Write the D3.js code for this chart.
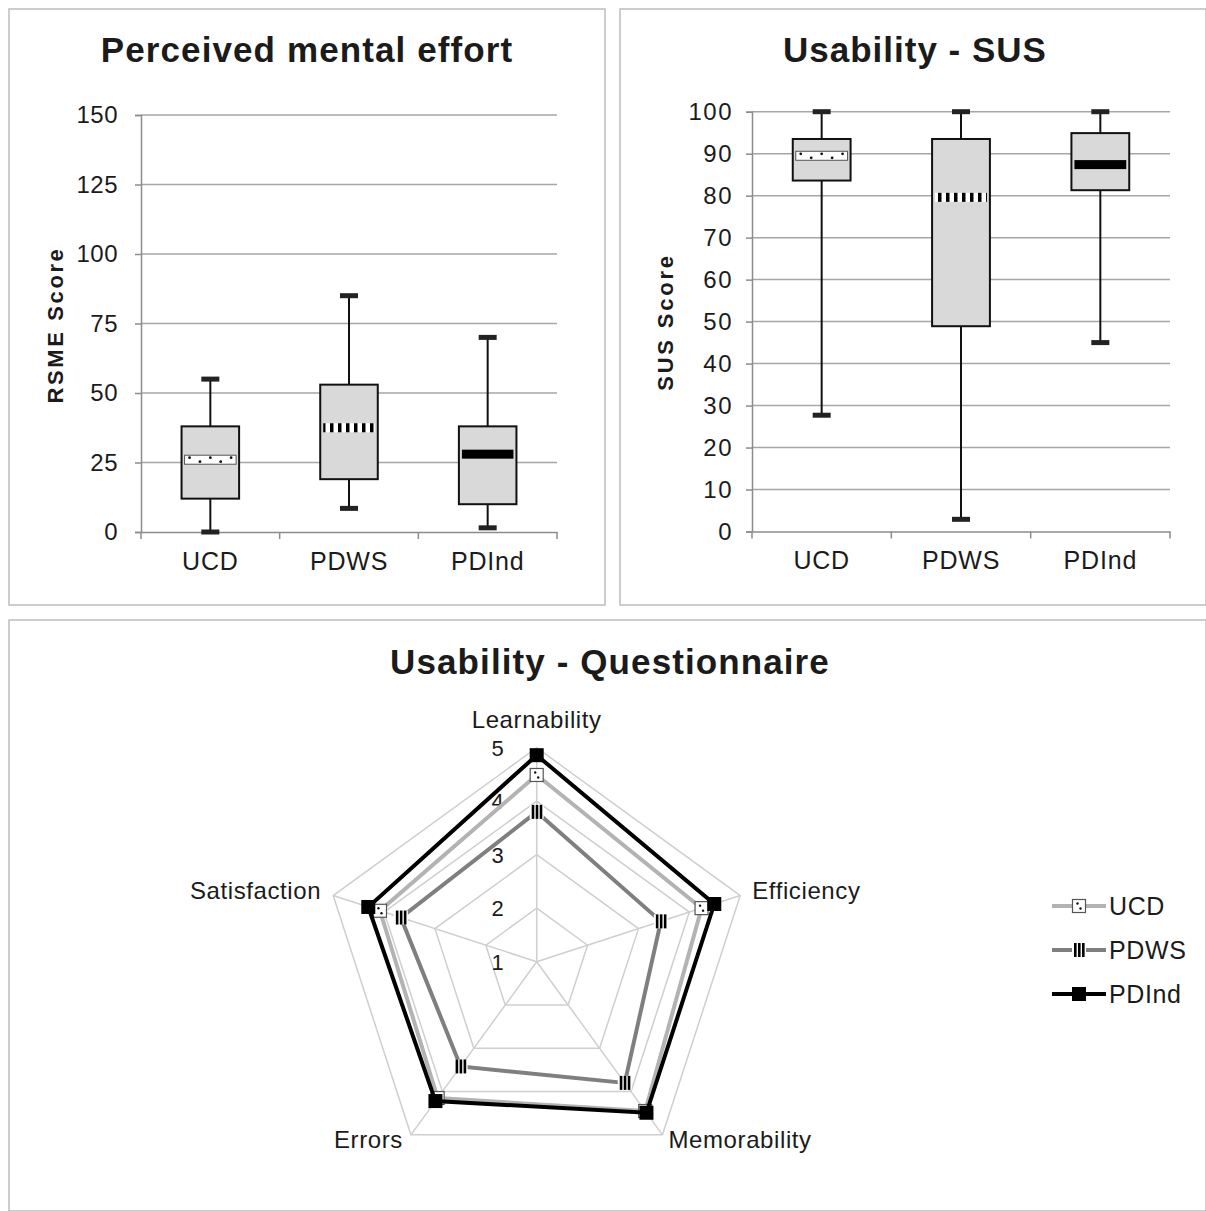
<!DOCTYPE html>
<html><head><meta charset="utf-8">
<script src="https://cdn.jsdelivr.net/npm/d3@7"></script>
<style>
body{margin:0;background:#fff}
svg{display:block;font-family:"Liberation Sans",Arial,sans-serif}
</style></head><body>
<svg id="fig" width="1206" height="1211"></svg>
<script>
// ---- data ----
const groups = ["UCD", "PDWS", "PDInd"];

// Perceived mental effort (RSME) per group
const rsmeMin    = [0, 8.5, 1.5];
const rsmeQ1     = [12, 19, 10];
const rsmeMedian = [26, 37.5, 28];
const rsmeQ3     = [38, 53, 38];
const rsmeMax    = [55, 85, 70];
const rsmeTicks  = [0, 25, 50, 75, 100, 125, 150];

// System Usability Scale per group
const susMin    = [27.7, 2.9, 45];
const susQ1     = [83.6, 48.9, 81.3];
const susMedian = [89.5, 79.6, 87.4];
const susQ3     = [93.5, 93.5, 94.9];
const susMax    = [100, 100, 100];
const susTicks  = [0, 10, 20, 30, 40, 50, 60, 70, 80, 90, 100];

// Usability questionnaire (1-5) per dimension
const dimensions  = ["Learnability", "Efficiency", "Memorability", "Errors", "Satisfaction"];
const ucdScores   = [4.49, 4.24, 4.45, 4.15, 4.08];
const pdwsScores  = [3.80, 3.44, 3.80, 3.42, 3.67];
const pdindScores = [4.86, 4.49, 4.49, 4.22, 4.31];
const radarTicks  = [1, 2, 3, 4, 5];

// ---- drawing ----
const svg = d3.select("#fig");
const TXT = "#1b1b1b";
const defs = svg.append("defs");

// striped fill used for the PDWS median band
const stripe = defs.append("pattern").attr("id", "stripes")
  .attr("patternUnits", "userSpaceOnUse").attr("width", 8).attr("height", 20);
stripe.append("rect").attr("width", 8).attr("height", 20).attr("fill", "#fff");
stripe.append("rect").attr("x", 2).attr("width", 3.5).attr("height", 20).attr("fill", "#000");

// panel frames
const frames = [[9, 9, 596, 596], [620, 9, 586, 596], [9, 620, 1197, 591]];
svg.selectAll("rect.frame").data(frames).join("rect")
  .attr("class", "frame")
  .attr("x", d => d[0]).attr("y", d => d[1]).attr("width", d => d[2]).attr("height", d => d[3])
  .attr("fill", "#fff").attr("stroke", "#bdbdbd").attr("stroke-width", 1.5);

const styles = ["dots", "stripes", "solid"];

function boxPanel(o) {
  const g = svg.append("g");
  const y = d3.scaleLinear().domain(o.domain).range([o.yBot, o.yTop]);
  const x = d3.scaleBand().domain(groups).range([o.x0, o.x1]);

  // horizontal gridlines
  g.append("g").selectAll("line").data(o.ticks.filter(t => t > o.domain[0])).join("line")
    .attr("x1", o.x0).attr("x2", o.x1)
    .attr("y1", d => y(d)).attr("y2", d => y(d))
    .attr("stroke", "#a6a6a6").attr("stroke-width", 1.5);

  // value axis
  const ay = g.append("g").attr("transform", `translate(${o.x0},0)`)
    .call(d3.axisLeft(y).tickValues(o.ticks).tickSize(6).tickPadding(o.pad).tickFormat(d3.format("d")));
  ay.select(".domain").attr("stroke", "#8c8c8c").attr("stroke-width", 1.5);
  ay.selectAll(".tick line").attr("stroke", "#8c8c8c").attr("stroke-width", 1.5);
  ay.selectAll("text").attr("fill", TXT).style("font-size", o.tickFont + "px")
    .style("letter-spacing", o.tickSpacing + "px");

  // category axis
  const ax = g.append("g").attr("transform", `translate(0,${o.yBot})`)
    .call(d3.axisBottom(x).tickSize(0).tickPadding(20));
  ax.select(".domain").attr("stroke", "#8c8c8c").attr("stroke-width", 1.5);
  ax.selectAll("text").attr("fill", TXT).style("font-size", "25px").style("letter-spacing", "0.8px");
  const bounds = groups.map(c => x(c)).concat([o.x1]);
  g.append("g").selectAll("line").data(bounds).join("line")
    .attr("x1", d => d).attr("x2", d => d).attr("y1", o.yBot).attr("y2", o.yBot + 7)
    .attr("stroke", "#8c8c8c").attr("stroke-width", 1.5);

  const bw = x.bandwidth() * 0.415;
  const boxes = groups.map((c, i) => ({
    c, i, lo: o.min[i], q1: o.q1[i], med: o.median[i], q3: o.q3[i], hi: o.max[i],
    cx: x(c) + x.bandwidth() / 2, style: styles[i]
  }));

  const b = g.append("g").selectAll("g").data(boxes).join("g");
  // whiskers
  b.append("line").attr("x1", d => d.cx).attr("x2", d => d.cx)
    .attr("y1", d => y(d.hi)).attr("y2", d => y(d.lo))
    .attr("stroke", "#111").attr("stroke-width", 2);
  b.selectAll("rect.cap").data(d => [[d.cx, d.hi], [d.cx, d.lo]]).join("rect")
    .attr("class", "cap")
    .attr("x", d => d[0] - 9).attr("y", d => y(d[1]) - 2.5).attr("width", 18).attr("height", 5)
    .attr("fill", "#222");
  // box
  b.append("rect").attr("x", d => d.cx - bw / 2).attr("width", bw)
    .attr("y", d => y(d.q3)).attr("height", d => y(d.q1) - y(d.q3))
    .attr("fill", "#d9d9d9").attr("stroke", "#111").attr("stroke-width", 2);
  // median band
  const mw = bw - 6, mh = 9;
  b.append("rect").attr("x", d => d.cx - mw / 2).attr("width", mw)
    .attr("y", d => y(d.med) - mh / 2).attr("height", mh)
    .attr("fill", d => d.style === "solid" ? "#000" : d.style === "stripes" ? "url(#stripes)" : "#fff")
    .attr("stroke", d => d.style === "dots" ? "#555" : "none").attr("stroke-width", 1);
  b.filter(d => d.style === "dots").each(function (d) {
    const pts = d3.range(0, 5).map(k => [d.cx - mw / 2 + 5 + k * (mw - 10) / 4, y(d.med) + (k % 2 ? 2 : -2)]);
    d3.select(this).selectAll("circle").data(pts).join("circle")
      .attr("cx", p => p[0]).attr("cy", p => p[1]).attr("r", 1.4).attr("fill", "#111");
  });

  // titles
  g.append("text").attr("x", o.titleX).attr("y", 62).attr("text-anchor", "middle")
    .attr("fill", TXT).style("font-size", "35px").style("font-weight", "bold")
    .style("letter-spacing", o.titleSpacing + "px").text(o.title);
  g.append("text").attr("transform", `translate(${o.labelX},${o.labelY}) rotate(-90)`)
    .attr("text-anchor", "middle").attr("fill", TXT)
    .style("font-size", "22px").style("font-weight", "bold").style("letter-spacing", o.labelSpacing + "px")
    .text(o.yLabel);
}

boxPanel({
  x0: 141, x1: 557, yTop: 115, yBot: 532, domain: [0, 150], ticks: rsmeTicks,
  min: rsmeMin, q1: rsmeQ1, median: rsmeMedian, q3: rsmeQ3, max: rsmeMax,
  pad: 17, tickFont: 24, tickSpacing: 0.5,
  title: "Perceived mental effort", titleX: 307, titleSpacing: 1.1,
  yLabel: "RSME Score", labelX: 63, labelY: 325, labelSpacing: 2.6
});
boxPanel({
  x0: 752, x1: 1170, yTop: 111.7, yBot: 531.5, domain: [0, 100], ticks: susTicks,
  min: susMin, q1: susQ1, median: susMedian, q3: susQ3, max: susMax,
  pad: 13, tickFont: 24, tickSpacing: 1.5,
  title: "Usability - SUS", titleX: 915, titleSpacing: 1.0,
  yLabel: "SUS Score", labelX: 673, labelY: 322, labelSpacing: 2.8
});

// ---- radar ----
const rg = svg.append("g");
const cx = 536.7, cy = 961.7;
const r = d3.scaleLinear().domain([1, 5]).range([0, 214]);
const ang = i => i * 2 * Math.PI / dimensions.length;
const pt = (i, v) => [cx + r(v) * Math.sin(ang(i)), cy - r(v) * Math.cos(ang(i))];

rg.append("text").attr("x", 610).attr("y", 674).attr("text-anchor", "middle")
  .attr("fill", TXT).style("font-size", "35px").style("font-weight", "bold").style("letter-spacing", "1.1px")
  .text("Usability - Questionnaire");

// rings and spokes
rg.append("g").selectAll("polygon").data(radarTicks.filter(t => t > 1)).join("polygon")
  .attr("points", t => dimensions.map((_, i) => pt(i, t).join(",")).join(" "))
  .attr("fill", "none").attr("stroke", "#cfcfcf").attr("stroke-width", 1.5);
rg.append("g").selectAll("line").data(dimensions).join("line")
  .attr("x1", cx).attr("y1", cy)
  .attr("x2", (d, i) => pt(i, 5)[0]).attr("y2", (d, i) => pt(i, 5)[1])
  .attr("stroke", "#cfcfcf").attr("stroke-width", 1.5);

// scale labels
rg.append("g").selectAll("text").data(radarTicks).join("text")
  .attr("x", cx - 39).attr("y", t => cy - r(t) + 8).attr("text-anchor", "middle")
  .attr("fill", TXT).style("font-size", "22px").text(d => d);

// dimension labels
const labelOffsets = [[0, -28, "middle"], [12, -5, "start"], [6, 5, "start"], [-8, 5, "end"], [-12, -5, "end"]];
rg.append("g").selectAll("text").data(dimensions).join("text")
  .attr("x", (d, i) => pt(i, 5)[0] + labelOffsets[i][0])
  .attr("y", (d, i) => pt(i, 5)[1] + labelOffsets[i][1])
  .attr("dy", "0.35em")
  .attr("text-anchor", (d, i) => labelOffsets[i][2])
  .attr("fill", TXT).style("font-size", "24px").style("letter-spacing", "0.6px")
  .text(d => d);

const series = [
  { name: "UCD", values: ucdScores, color: "#b3b3b3", marker: "dots" },
  { name: "PDWS", values: pdwsScores, color: "#7f7f7f", marker: "stripes" },
  { name: "PDInd", values: pdindScores, color: "#000", marker: "solid" }
];

function drawMarker(sel, kind) {
  if (kind === "solid") {
    sel.append("rect").attr("x", -7).attr("y", -7).attr("width", 14).attr("height", 14).attr("fill", "#000");
  } else if (kind === "stripes") {
    sel.append("rect").attr("x", -7).attr("y", -7).attr("width", 14).attr("height", 14).attr("fill", "#fff");
    sel.selectAll("rect.bar").data([-5, -1, 3]).join("rect").attr("class", "bar")
      .attr("x", d => d).attr("y", -7).attr("width", 2.6).attr("height", 14).attr("fill", "#000");
  } else {
    sel.append("rect").attr("x", -6.5).attr("y", -6.5).attr("width", 13).attr("height", 13)
      .attr("fill", "#fff").attr("stroke", "#555").attr("stroke-width", 1.2);
    sel.selectAll("circle").data([[-1.5, -2.5], [1.5, 2.5]]).join("circle")
      .attr("cx", d => d[0]).attr("cy", d => d[1]).attr("r", 1.2).attr("fill", "#111");
  }
}

const line = d3.line().curve(d3.curveLinearClosed);
series.forEach(s => {
  const pts = s.values.map((v, i) => pt(i, v));
  rg.append("path").attr("d", line(pts)).attr("fill", "none")
    .attr("stroke", s.color).attr("stroke-width", 4).attr("stroke-linejoin", "miter");
  rg.append("g").selectAll("g").data(pts).join("g")
    .attr("transform", p => `translate(${p[0]},${p[1]})`)
    .each(function () { drawMarker(d3.select(this), s.marker); });
});

// legend
const lg = svg.append("g").selectAll("g").data(series).join("g")
  .attr("transform", (d, i) => `translate(1052,${906 + i * 44})`);
lg.append("line").attr("x1", 0).attr("x2", 54).attr("stroke", d => d.color).attr("stroke-width", 4);
lg.append("g").attr("transform", "translate(27,0)").each(function (d) { drawMarker(d3.select(this), d.marker); });
lg.append("text").attr("x", 57).attr("dy", "0.35em").attr("fill", TXT)
  .style("font-size", "25px").style("letter-spacing", "0.6px").text(d => d.name);
</script>
</body></html>
